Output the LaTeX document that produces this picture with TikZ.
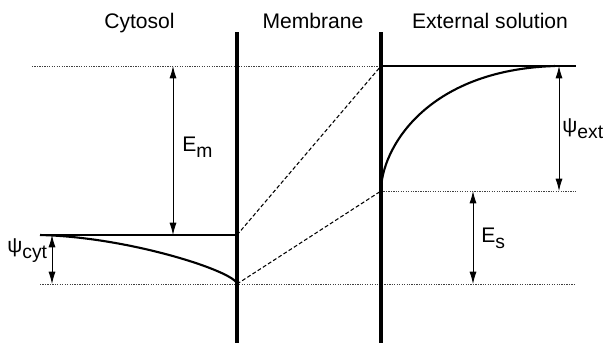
\documentclass[tikz,border=0pt]{standalone}
\usepackage{fontspec}
\setmainfont{Liberation Sans}
\usetikzlibrary{arrows.meta}
\newcommand{\lsub}[1]{\raisebox{-0.3em}{\fontsize{11}{13}\selectfont #1}}
\begin{document}
\begin{tikzpicture}[x=0.02cm, y=-0.02cm,
  membrane/.style={line width=2.8pt},
  level/.style={line width=0.7pt},
  guide/.style={line width=0.5pt, black!75, dash pattern=on 0.7pt off 0.7pt},
  slope/.style={line width=0.6pt, dash pattern=on 2.2pt off 1.3pt},
  profile/.style={line width=1.2pt},
  span/.style={line width=0.5pt, {Latex[length=7pt,width=4pt]}-{Latex[length=7pt,width=4pt]}},
  title/.style={inner sep=0pt, anchor=base, font=\fontsize{12}{14}\selectfont},
  lbl/.style={inner sep=0pt, anchor=base west, font=\fontsize{12}{14}\selectfont}]
\useasboundingbox (0,0) rectangle (604,343);
% membrane faces and levels
\coordinate (inTop) at (237,32);
\coordinate (inBot) at (237,343);
\coordinate (outTop) at (381,32);
\coordinate (outBot) at (381,343);
\coordinate (cytL) at (40,235);
\coordinate (cytM) at (237,235);
\coordinate (surfIn) at (237,284);
\coordinate (extM) at (381,66);
\coordinate (extR) at (576,66);
\coordinate (surfOut) at (381,191);
% dotted guides
\draw[guide] (32,66) -- (extM);
\draw[guide] (40,284) -- (576,284);
\draw[guide] (surfOut) -- (576,191);
% bulk levels
\draw[level] (cytL) -- (cytM);
\draw[level] (extM) -- (extR);
% potential profiles
\draw[profile] (surfIn) .. controls (236,272) and (130,237) .. (cytL);
\draw[profile] (surfOut) .. controls (381,150) and (425,70) .. (555,66);
\draw[slope] (cytM) -- (extM);
\draw[slope] (surfIn) -- (surfOut);
% membrane
\draw[membrane] (inTop) -- (inBot);
\draw[membrane] (outTop) -- (outBot);
% dimension arrows
\coordinate (emTop) at (173,66);
\coordinate (emBot) at (173,235);
\coordinate (cytTop) at (52,235);
\coordinate (cytBot) at (52,284);
\coordinate (extTop) at (559,66);
\coordinate (extBot) at (559,191);
\coordinate (esTop) at (473,191);
\coordinate (esBot) at (473,284);
\draw[span] (emTop) -- (emBot);
\draw[span] (cytTop) -- (cytBot);
\draw[span] (extTop) -- (extBot);
\draw[span] (esTop) -- (esBot);
% labels
\node[title] (cytosol) at (139.5,28) {Cytosol};
\node[title] (membraneLbl) at (313,28) {Membrane};
\node[title] (external) at (490,28) {External solution};
\node[lbl] (emLbl) at (182,151) {E\lsub{m}};
\node[lbl] (esLbl) at (481,242) {E\lsub{s}};
\node[lbl] (psiCyt) at (7,252) {ψ\lsub{cyt}};
\node[lbl] (psiExt) at (562,132) {ψ\lsub{ext}};
\end{tikzpicture}
\end{document}
